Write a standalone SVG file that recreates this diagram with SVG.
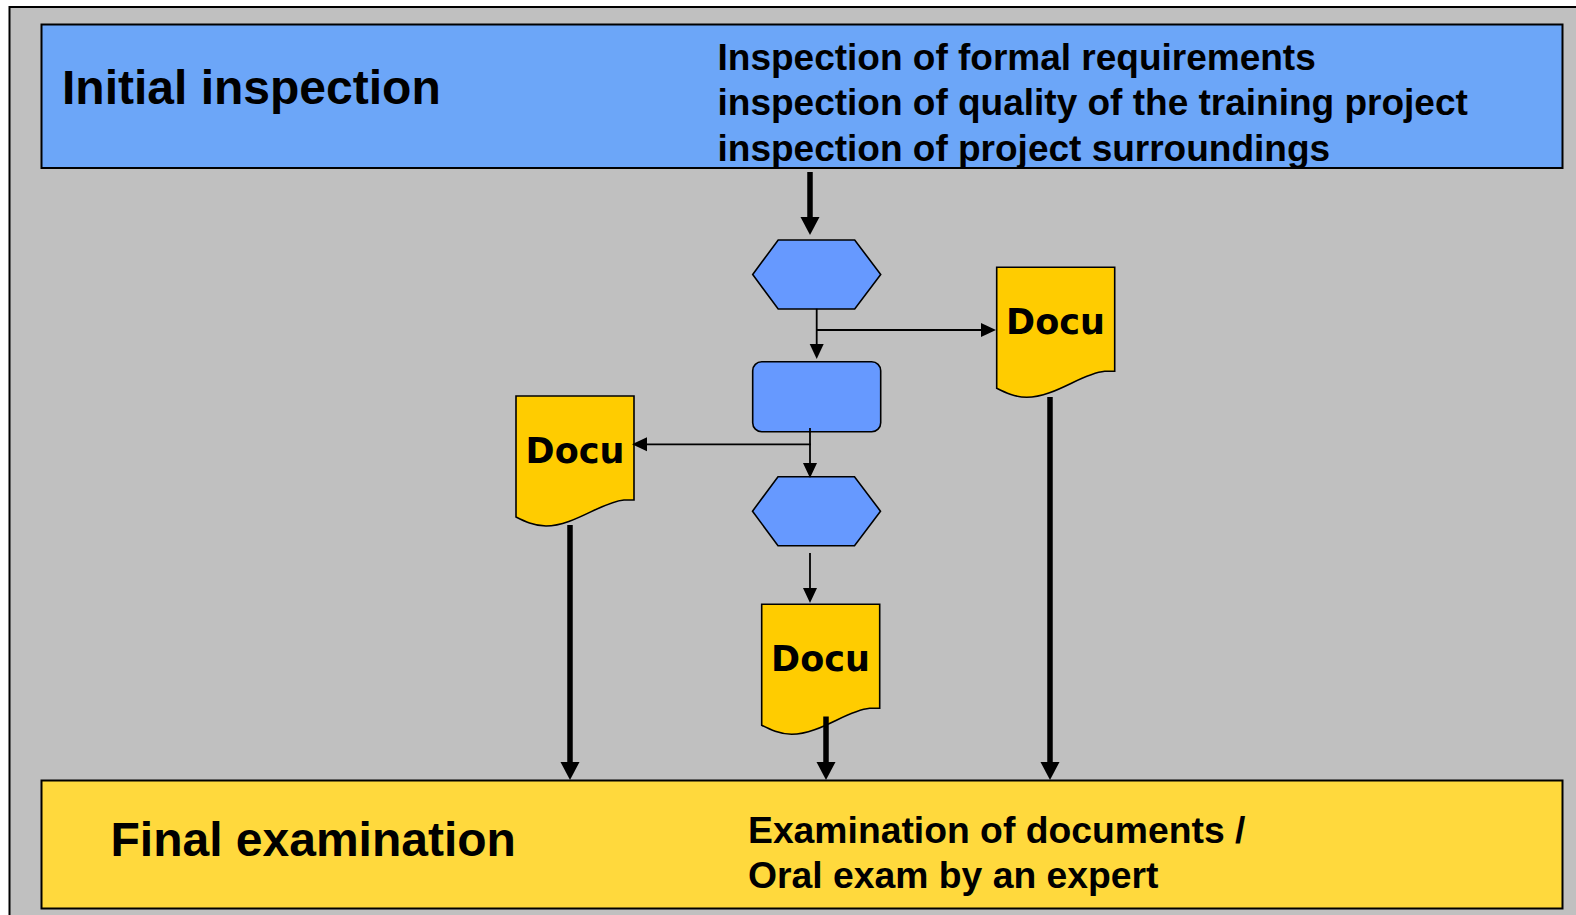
<svg xmlns="http://www.w3.org/2000/svg" width="1576" height="915" viewBox="0 0 1576 915">
  <style>
    .band-text { font-family: "Liberation Sans", Arial, sans-serif; font-weight: bold; fill: #000; }
    .title { font-size: 48px; }
    .note-top { font-size: 37px; }
    .note-bottom { font-size: 37.3px; }
    .step { fill: #6699FF; stroke: #000; stroke-width: 1.6; }
    .doc { fill: #FFCC00; stroke: #000; stroke-width: 1.6; }
    .doc-label { font-family: "DejaVu Sans", Verdana, sans-serif; font-weight: bold; font-size: 35px; fill: #000; text-anchor: middle; }
    .flow-thick { stroke: #000; stroke-width: 5.5; fill: none; marker-end: url(#head-thick); }
    .flow-thin { stroke: #000; stroke-width: 1.8; fill: none; }
    .flow-thin.arrow { marker-end: url(#head-thin); }
  </style>
  <defs>
    <marker id="head-thick" markerUnits="userSpaceOnUse" viewBox="0 -10 18 20" markerWidth="18" markerHeight="20" refX="1" refY="0" orient="auto">
      <path d="M0,-9.5 L18,0 L0,9.5 Z" fill="#000"/>
    </marker>
    <marker id="head-thin" markerUnits="userSpaceOnUse" viewBox="0 -8 15 16" markerWidth="15" markerHeight="16" refX="1" refY="0" orient="auto">
      <path d="M0,-7 L15,0 L0,7 Z" fill="#000"/>
    </marker>
    <!-- document symbol with wavy lower edge -->
    <path id="doc-shape" d="M0,0 H118 V104 H108 C85,106 58,130 30,130 C18,130 8,125 0,121 Z"/>
    <polygon id="hex-shape" points="0,34.5 25.5,0 102,0 128,34.5 102,69 25.5,69"/>
  </defs>

  <!-- page background with frame -->
  <rect x="0" y="0" width="1576" height="915" fill="#FFFFFF"/>
  <rect x="9.5" y="7" width="1580" height="920" fill="#C0C0C0" stroke="#000" stroke-width="2"/>

  <g id="initial-inspection">
    <rect x="41.5" y="24.5" width="1521" height="143.5" fill="#6CA6F8" stroke="#000" stroke-width="2"/>
    <text class="band-text title" x="62" y="104">Initial inspection</text>
    <text class="band-text note-top" x="717.5" y="70">Inspection of formal requirements</text>
    <text class="band-text note-top" x="717.5" y="115">inspection of quality of the training project</text>
    <text class="band-text note-top" x="717.5" y="160.5">inspection of project surroundings</text>
  </g>

  <g id="final-examination">
    <rect x="41.5" y="780.5" width="1521" height="128" fill="#FFD93D" stroke="#000" stroke-width="2"/>
    <text class="band-text title" x="110.5" y="856">Final examination</text>
    <text class="band-text note-bottom" x="748" y="843">Examination of documents /</text>
    <text class="band-text note-bottom" x="748" y="888">Oral exam by an expert</text>
  </g>

  <g id="check-1">
    <use href="#hex-shape" class="step" transform="translate(752.7,240)"/>
  </g>

  <g id="process">
    <rect class="step" x="752.7" y="361.7" width="128" height="70" rx="9" ry="9"/>
  </g>

  <g id="check-2">
    <use href="#hex-shape" class="step" transform="translate(752.5,476.7)"/>
  </g>

  <g id="docu-right">
    <use href="#doc-shape" class="doc" transform="translate(996.7,267.3)"/>
    <text class="doc-label" x="1055.5" y="334">Docu</text>
  </g>

  <g id="docu-left">
    <use href="#doc-shape" class="doc" transform="translate(516,396)"/>
    <text class="doc-label" x="575" y="463">Docu</text>
  </g>

  <g id="docu-bottom">
    <use href="#doc-shape" class="doc" transform="translate(761.7,604.3)"/>
    <text class="doc-label" x="820.5" y="671">Docu</text>
  </g>

  <g id="connectors">
    <!-- from initial inspection into the first check -->
    <line class="flow-thick" x1="810" y1="172" x2="810" y2="218"/>
    <!-- first check to process, with branch to right docu -->
    <line class="flow-thin arrow" x1="816.7" y1="308.7" x2="816.7" y2="345"/>
    <line class="flow-thin arrow" x1="816.7" y1="330" x2="982" y2="330"/>
    <!-- process to second check, with branch to left docu -->
    <line class="flow-thin arrow" x1="810" y1="428" x2="810" y2="464"/>
    <line class="flow-thin arrow" x1="810.9" y1="444.3" x2="646" y2="444.3"/>
    <!-- second check to bottom docu -->
    <line class="flow-thin arrow" x1="810" y1="553" x2="810" y2="589"/>
    <!-- documents into final examination -->
    <line class="flow-thick" x1="570" y1="525" x2="570" y2="763"/>
    <line class="flow-thick" x1="826" y1="716.5" x2="826" y2="763"/>
    <line class="flow-thick" x1="1050" y1="397" x2="1050" y2="763"/>
  </g>
</svg>
